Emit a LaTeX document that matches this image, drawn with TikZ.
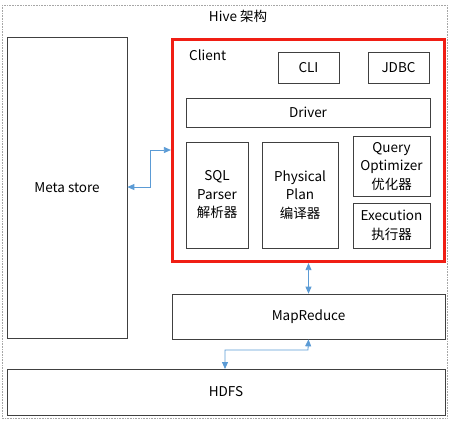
\documentclass[tikz,border=0pt]{standalone}
\usepackage{fontspec}
\setmainfont{Noto Sans CJK SC}
\usetikzlibrary{arrows.meta}
\definecolor{arrblue}{RGB}{91,155,213}
\definecolor{redframe}{RGB}{240,30,20}
\tikzset{
  txt/.style={font=\fontsize{13.5}{18.5}\selectfont},
  box/.style={draw=black!75, line width=0.7pt, fill=white, inner sep=0pt, align=center, txt},
  conn/.style={draw=arrblue, line width=0.8pt, {Triangle[width=6pt,length=7pt]}-{Triangle[width=6pt,length=7pt]}},
}
\begin{document}
\begin{tikzpicture}[x=1pt,y=-1pt]
\useasboundingbox (0,0) rectangle (457,424);
\draw[black!35, densely dotted, line width=0.6pt] (2,5) rectangle (447,418);
\node[txt] (title) at (238,16) {Hive 架构};
% boxes
\node[box, minimum width=120pt, minimum height=301pt] (meta) at (67,187.5) {Meta store};
\node[draw=redframe, line width=3.2pt, minimum width=272pt, minimum height=222pt, inner sep=0pt] (client) at (308.5,150.5) {};
\node[txt, anchor=west, inner sep=0pt] (clientlbl) at (189,55) {Client};
\node[box, minimum width=61pt, minimum height=31pt] (cli) at (308.5,67.5) {CLI};
\node[box, minimum width=61pt, minimum height=31pt] (jdbc) at (398.5,67.5) {JDBC};
\node[box, minimum width=244pt, minimum height=29pt] (driver) at (308,112.5) {Driver};
\node[box, minimum width=62pt, minimum height=106pt] (sql) at (217,195) {SQL\\Parser\\解析器};
\node[box, minimum width=76pt, minimum height=106pt] (phys) at (300,195) {Physical\\Plan\\编译器};
\node[box, minimum width=77pt, minimum height=60pt] (opt) at (391.5,166) {Query\\Optimizer\\优化器};
\node[box, minimum width=77pt, minimum height=45pt] (exec) at (391.5,225.5) {Execution\\执行器};
\node[box, minimum width=273pt, minimum height=45pt] (mr) at (308.5,316.5) {MapReduce};
\node[box, minimum width=438pt, minimum height=46pt] (hdfs) at (226,392) {HDFS};
% connectors
\draw[conn] (meta.east |- 0,187) -- (150,187) -- (150,150) -- (client.west |- 0,150);
\draw[conn] (client.south) -- (mr.north);
\draw[conn] (mr.south) -- (308,350) -- (225,350) -- (225,369);
\end{tikzpicture}
\end{document}
